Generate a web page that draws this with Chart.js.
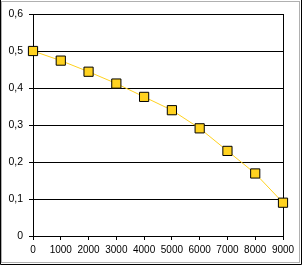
<!DOCTYPE html>
<html>
<head>
<meta charset="utf-8">
<script src="https://cdn.jsdelivr.net/npm/chart.js@4"></script>
<style>
  html, body { margin: 0; padding: 0; background: #fff; }
  #wrap { position: relative; width: 302px; height: 265px; }
</style>
</head>
<body>
<div id="wrap"><canvas id="chart" width="302" height="265"></canvas></div>
<script>
const xValues = [0, 1000, 2000, 3000, 4000, 5000, 6000, 7000, 8000, 9000];
const yValues = [0.5, 0.474, 0.444, 0.412, 0.376, 0.34, 0.291, 0.23, 0.169, 0.09];

const markerFill = '#ffd21f';
const lineColor = '#ffd21f';

function formatComma(value) {
    if (value === 0) return '0';
    return value.toFixed(1).replace('.', ',');
}

// frame round the whole chart and right edge of plot area
const framePlugin = {
    id: 'frame',
    beforeDraw(chart) {
        const ctx = chart.ctx;
        ctx.save();
        ctx.fillStyle = '#fff';
        ctx.fillRect(0, 0, chart.width, chart.height);
        ctx.strokeStyle = '#b0b0b0';
        ctx.lineWidth = 1;
        ctx.strokeRect(1.5, 1.5, chart.width - 4, chart.height - 4);
        ctx.strokeStyle = '#000';
        ctx.beginPath();
        ctx.moveTo(0.5, 0);
        ctx.lineTo(0.5, chart.height - 0.5);
        ctx.lineTo(chart.width - 0.5, chart.height - 0.5);
        ctx.lineTo(chart.width - 0.5, 0);
        ctx.stroke();
        ctx.restore();
    },
    beforeDatasetsDraw(chart) {
        const { ctx, chartArea } = chart;
        ctx.save();
        ctx.strokeStyle = '#000';
        ctx.lineWidth = 1;
        ctx.beginPath();
        ctx.moveTo(Math.round(chartArea.right) + 0.5, chartArea.top);
        ctx.lineTo(Math.round(chartArea.right) + 0.5, chartArea.bottom);
        ctx.stroke();
        ctx.restore();
    }
};

const points = xValues.map((x, i) => ({ x: x, y: yValues[i] }));

new Chart(document.getElementById('chart'), {
    type: 'scatter',
    data: {
        datasets: [{
            data: points,
            showLine: true,
            borderColor: lineColor,
            borderWidth: 1,
            pointStyle: 'rect',
            pointRadius: 6.5,
            pointHoverRadius: 6.5,
            pointBackgroundColor: markerFill,
            pointBorderColor: '#000',
            pointBorderWidth: 1,
            clip: false
        }]
    },
    options: {
        responsive: false,
        animation: false,
        layout: { padding: { top: 14, right: 19, left: 0, bottom: 0 } },
        plugins: {
            legend: { display: false },
            tooltip: { enabled: false }
        },
        scales: {
            x: {
                type: 'linear',
                min: 0,
                max: 9000,
                afterFit(scale) { scale.height = 29; },
                grid: {
                    display: true,
                    drawOnChartArea: false,
                    drawTicks: true,
                    tickLength: 4,
                    color: '#000'
                },
                border: { color: '#000', width: 1 },
                ticks: {
                    stepSize: 1000,
                    maxRotation: 0,
                    autoSkip: false,
                    padding: 4,
                    color: '#000',
                    font: { family: 'Liberation Sans, Arial', size: 10 },
                    callback: value => String(value)
                }
            },
            y: {
                min: 0,
                max: 0.6,
                afterFit(scale) { scale.width = 33; },
                grid: {
                    color: '#000',
                    drawTicks: true,
                    tickLength: 4
                },
                border: { color: '#000', width: 1 },
                ticks: {
                    stepSize: 0.1,
                    padding: 6,
                    color: '#000',
                    font: { family: 'Liberation Sans, Arial', size: 10.5 },
                    callback: value => formatComma(value)
                }
            }
        }
    },
    plugins: [framePlugin]
});
</script>
</body>
</html>
